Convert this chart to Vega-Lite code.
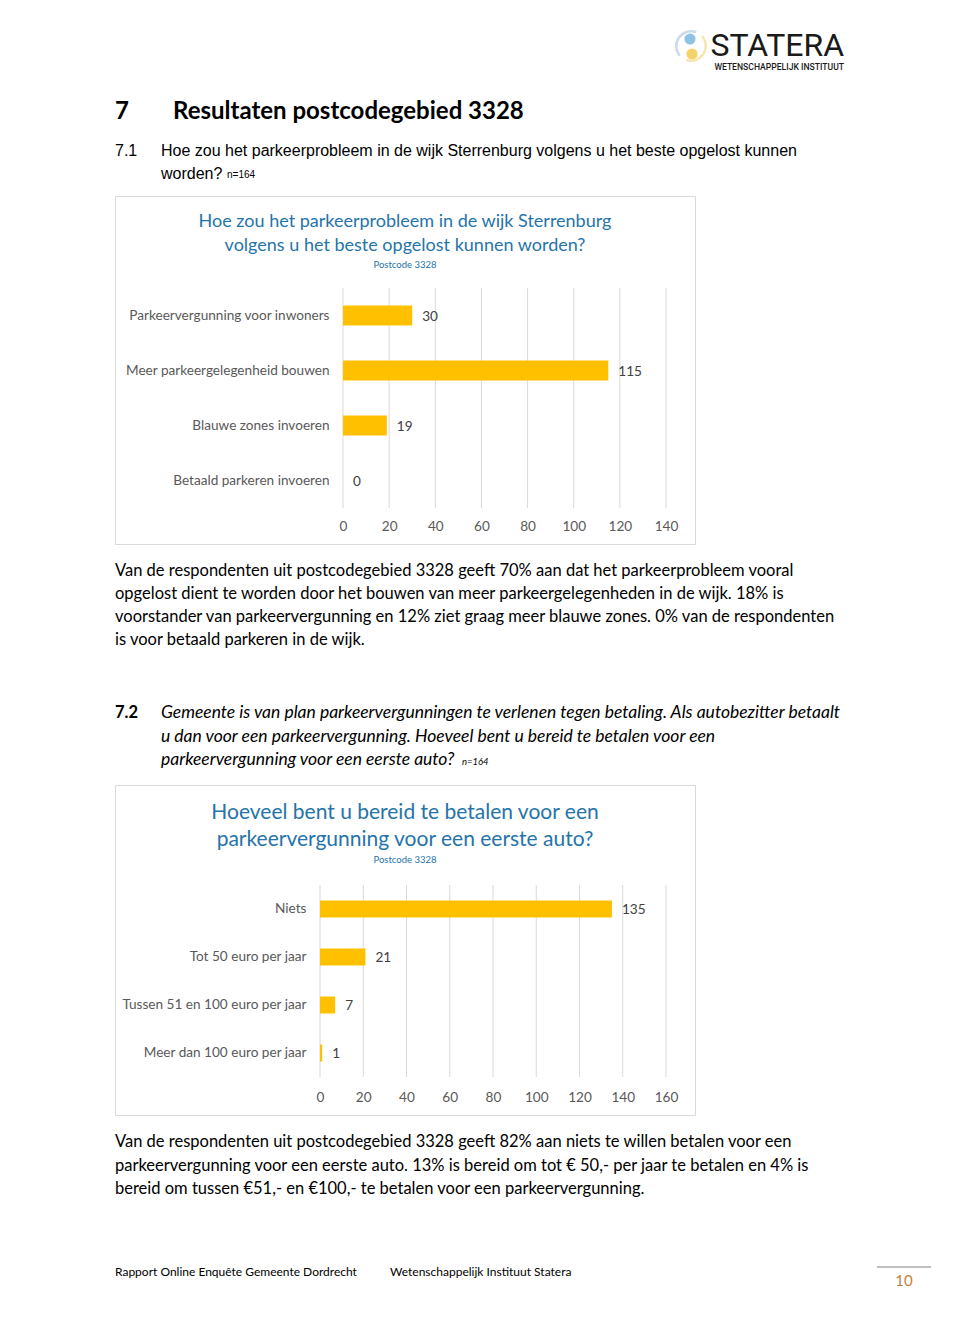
{
  "$schema": "https://vega.github.io/schema/vega-lite/v6.json",
  "background": "#ffffff",
  "padding": {"left": 114, "top": 0, "right": 0, "bottom": 0},
  "bounds": "flush",
  "spacing": 0,
  "config": {"view": {"stroke": null}, "font": "Lato"},
  "vconcat": [
    {
      "width": 730,
      "height": 196,
      "layer": [
        {
          "data": {"values": [{"kleur": "geel", "aandeel": 1}, {"kleur": "blauw", "aandeel": 1}]},
          "mark": {"type": "arc", "radius": 16, "radius2": 13.5, "padAngle": 0.35},
          "encoding": {
            "x": {"field": "kleur", "type": "nominal", "axis": null, "scale": {"type": "point", "domain": ["geel", "blauw"], "range": [576, 576], "padding": 0}},
            "y": {"field": "kleur", "type": "nominal", "axis": null, "scale": {"type": "point", "domain": ["geel", "blauw"], "range": [46, 46], "padding": 0}},
            "theta": {"field": "aandeel", "type": "quantitative", "stack": true, "scale": {"range": [0.6, 6.883]}},
            "order": {"field": "kleur", "sort": "descending"},
            "color": {"field": "kleur", "type": "nominal", "legend": null, "scale": {"domain": ["blauw", "geel"], "range": ["#cadcea", "#f8e6b0"]}}
          }
        },
        {
          "data": {"values": [{"kleur": "blauw"}, {"kleur": "geel"}]},
          "mark": {"type": "circle", "opacity": 1, "size": 125},
          "encoding": {
            "x": {"field": "kleur", "type": "nominal", "axis": null, "scale": {"type": "point", "domain": ["blauw", "geel"], "range": [575, 577], "padding": 0}},
            "y": {"field": "kleur", "type": "nominal", "axis": null, "scale": {"type": "point", "domain": ["blauw", "geel"], "range": [39, 54], "padding": 0}},
            "color": {"field": "kleur", "type": "nominal", "legend": null, "scale": {"domain": ["blauw", "geel"], "range": ["#8ec3e6", "#f6d26a"]}}
          }
        },
        {
          "data": {"values": [{"deel": "naam", "tekst": "STATERA"}]},
          "mark": {"type": "text", "align": "right", "baseline": "alphabetic", "font": "Roboto", "fontSize": 32, "color": "#1a1a1a"},
          "encoding": {
            "x": {"field": "deel", "type": "nominal", "axis": null, "scale": {"type": "point", "domain": ["naam"], "range": [729, 729], "padding": 0}},
            "y": {"field": "deel", "type": "nominal", "axis": null, "scale": {"type": "point", "domain": ["naam"], "range": [56, 56], "padding": 0}},
            "text": {"field": "tekst"}
          }
        },
        {
          "data": {"values": [{"deel": "ondertitel", "tekst": "WETENSCHAPPELIJK INSTITUUT"}]},
          "mark": {"type": "text", "align": "right", "baseline": "alphabetic", "font": "Roboto", "fontSize": 8.6, "fontWeight": 500, "color": "#1a1a1a"},
          "encoding": {
            "x": {"field": "deel", "type": "nominal", "axis": null, "scale": {"type": "point", "domain": ["ondertitel"], "range": [729, 729], "padding": 0}},
            "y": {"field": "deel", "type": "nominal", "axis": null, "scale": {"type": "point", "domain": ["ondertitel"], "range": [70, 70], "padding": 0}},
            "text": {"field": "tekst"}
          }
        },
        {
          "data": {"values": [
            {"regel": 1, "deel": "nummer", "tekst": "7"},
            {"regel": 1, "deel": "tekst", "tekst": "Resultaten postcodegebied 3328"}
          ]},
          "mark": {"type": "text", "align": "left", "baseline": "alphabetic", "font": "Lato", "fontSize": 24, "fontWeight": "bold", "color": "#000000"},
          "encoding": {
            "x": {"field": "deel", "type": "nominal", "axis": null, "scale": {"type": "point", "domain": ["nummer", "tekst"], "range": [0, 58], "padding": 0}},
            "y": {"field": "regel", "type": "ordinal", "axis": null, "scale": {"type": "point", "domain": [1], "range": [119, 119], "padding": 0}},
            "text": {"field": "tekst"}
          }
        },
        {
          "layer": [
            {
              "data": {"values": [
                {"regel": 1, "deel": "nummer", "tekst": "7.1"},
                {"regel": 1, "deel": "tekst", "tekst": "Hoe zou het parkeerprobleem in de wijk Sterrenburg volgens u het beste opgelost kunnen"},
                {"regel": 2, "deel": "tekst", "tekst": "worden?"}
              ]},
              "mark": {"type": "text", "align": "left", "baseline": "middle", "font": "Liberation Sans", "fontSize": 16, "color": "#000000"},
              "encoding": {
                "x": {"field": "deel", "type": "nominal", "axis": null, "scale": {"type": "point", "domain": ["nummer", "tekst"], "range": [0, 46], "padding": 0}},
                "y": {"field": "regel", "type": "ordinal", "axis": null, "scale": {"type": "point", "domain": [1, 2], "range": [151, 174], "padding": 0}},
                "text": {"field": "tekst"}
              }
            },
            {
              "data": {"values": [{"regel": 2, "deel": "tekst", "tekst": "n=164"}]},
              "mark": {"type": "text", "align": "left", "baseline": "middle", "font": "Liberation Sans", "fontSize": 10, "dx": 66, "dy": 1, "color": "#000000"},
              "encoding": {
                "x": {"field": "deel", "type": "nominal", "axis": null, "scale": {"type": "point", "domain": ["nummer", "tekst"], "range": [0, 46], "padding": 0}},
                "y": {"field": "regel", "type": "ordinal", "axis": null, "scale": {"type": "point", "domain": [1, 2], "range": [151, 174], "padding": 0}},
                "text": {"field": "tekst"}
              }
            }
          ]
        }
      ],
      "resolve": {"scale": {"x": "independent", "y": "independent", "color": "independent", "theta": "independent"}}
    },
    {
      "width": 580,
      "height": 348,
      "view": {"stroke": "#d9d9d9", "strokeWidth": 1},
      "title": {
        "text": ["Hoe zou het parkeerprobleem in de wijk Sterrenburg", "volgens u het beste opgelost kunnen worden?"],
        "subtitle": "Postcode 3328",
        "orient": "top",
        "anchor": "middle",
        "frame": "group",
        "offset": -73,
        "font": "Lato",
        "fontSize": 18,
        "fontWeight": "normal",
        "color": "#2574a9",
        "lineHeight": 24,
        "subtitleFont": "Lato",
        "subtitleFontSize": 9.5,
        "subtitleColor": "#2574a9",
        "subtitlePadding": 5
      },
      "layer": [
        {
          "data": {"values": [{"waarde": 0}, {"waarde": 20}, {"waarde": 40}, {"waarde": 60}, {"waarde": 80}, {"waarde": 100}, {"waarde": 120}, {"waarde": 140}]},
          "mark": {"type": "rule", "color": "#d9d9d9", "strokeWidth": 1},
          "encoding": {
            "x": {"field": "waarde", "type": "quantitative", "axis": null, "scale": {"domain": [0, 140], "range": [228, 551], "nice": false}},
            "y": {"datum": 0, "type": "quantitative", "axis": null, "scale": {"domain": [0, 1], "range": [92, 312]}},
            "y2": {"datum": 1}
          }
        },
        {
          "data": {"values": [
            {"antwoord": "Parkeervergunning voor inwoners", "aantal": 30},
            {"antwoord": "Meer parkeergelegenheid bouwen", "aantal": 115},
            {"antwoord": "Blauwe zones invoeren", "aantal": 19},
            {"antwoord": "Betaald parkeren invoeren", "aantal": 0}
          ]},
          "encoding": {
            "y": {"field": "antwoord", "type": "nominal", "sort": null, "scale": {"type": "band", "range": [92, 312], "paddingInner": 0.636, "paddingOuter": 0.318},
              "axis": {"orient": "left", "offset": -228, "domain": false, "ticks": false, "grid": false, "labelPadding": 14, "labelFont": "Lato", "labelFontSize": 13.6, "labelColor": "#595959", "title": null, "labelLimit": 400}},
            "x": {"field": "aantal", "type": "quantitative", "scale": {"domain": [0, 140], "range": [228, 551], "nice": false},
              "axis": {"orient": "bottom", "offset": -36, "domain": false, "ticks": false, "tickSize": 0, "grid": false, "labelPadding": 11, "labelFont": "Lato", "labelFontSize": 13.6, "labelColor": "#595959", "title": null, "values": [0, 20, 40, 60, 80, 100, 120, 140], "labelFlush": false, "labelOverlap": false}}
          },
          "layer": [
            {"mark": {"type": "bar", "color": "#FFC000"}},
            {
              "mark": {"type": "text", "align": "left", "baseline": "middle", "dx": 10, "dy": 1, "font": "Lato", "fontSize": 13.6, "color": "#404040"},
              "encoding": {"text": {"field": "aantal", "type": "quantitative"}}
            }
          ]
        }
      ],
      "resolve": {"scale": {"x": "independent", "y": "independent"}}
    },
    {
      "width": 730,
      "height": 241,
      "layer": [
        {
          "data": {"values": [
            {"regel": 1, "deel": "tekst", "tekst": "Van de respondenten uit postcodegebied 3328 geeft 70% aan dat het parkeerprobleem vooral"},
            {"regel": 2, "deel": "tekst", "tekst": "opgelost dient te worden door het bouwen van meer parkeergelegenheden in de wijk. 18% is"},
            {"regel": 3, "deel": "tekst", "tekst": "voorstander van parkeervergunning en 12% ziet graag meer blauwe zones. 0% van de respondenten"},
            {"regel": 4, "deel": "tekst", "tekst": "is voor betaald parkeren in de wijk."}
          ]},
          "mark": {"type": "text", "align": "left", "baseline": "middle", "font": "Lato", "fontSize": 16.5, "color": "#000000"},
          "encoding": {
            "x": {"field": "deel", "type": "nominal", "axis": null, "scale": {"type": "point", "domain": ["tekst"], "range": [0, 0], "padding": 0}},
            "y": {"field": "regel", "type": "ordinal", "axis": null, "scale": {"type": "point", "domain": [1, 2, 3, 4], "range": [27, 96], "padding": 0}},
            "text": {"field": "tekst"}
          }
        },
        {
          "layer": [
            {
              "data": {"values": [{"regel": 1, "deel": "nummer", "tekst": "7.2"}]},
              "mark": {"type": "text", "align": "left", "baseline": "middle", "font": "Lato", "fontSize": 16.5, "fontWeight": "bold", "color": "#000000"},
              "encoding": {
                "x": {"field": "deel", "type": "nominal", "axis": null, "scale": {"type": "point", "domain": ["nummer", "tekst"], "range": [0, 46], "padding": 0}},
                "y": {"field": "regel", "type": "ordinal", "axis": null, "scale": {"type": "point", "domain": [1, 2, 3], "range": [169, 216], "padding": 0}},
                "text": {"field": "tekst"}
              }
            },
            {
              "data": {"values": [
                {"regel": 1, "deel": "tekst", "tekst": "Gemeente is van plan parkeervergunningen te verlenen tegen betaling. Als autobezitter betaalt"},
                {"regel": 2, "deel": "tekst", "tekst": "u dan voor een parkeervergunning. Hoeveel bent u bereid te betalen voor een"},
                {"regel": 3, "deel": "tekst", "tekst": "parkeervergunning voor een eerste auto?"}
              ]},
              "mark": {"type": "text", "align": "left", "baseline": "middle", "font": "Lato", "fontSize": 17.5, "fontStyle": "italic", "color": "#000000"},
              "encoding": {
                "x": {"field": "deel", "type": "nominal", "axis": null, "scale": {"type": "point", "domain": ["nummer", "tekst"], "range": [0, 46], "padding": 0}},
                "y": {"field": "regel", "type": "ordinal", "axis": null, "scale": {"type": "point", "domain": [1, 2, 3], "range": [169, 216], "padding": 0}},
                "text": {"field": "tekst"}
              }
            },
            {
              "data": {"values": [{"regel": 3, "deel": "tekst", "tekst": "n=164"}]},
              "mark": {"type": "text", "align": "left", "baseline": "middle", "font": "Lato", "fontSize": 9.5, "fontStyle": "italic", "dx": 301, "dy": 2, "color": "#000000"},
              "encoding": {
                "x": {"field": "deel", "type": "nominal", "axis": null, "scale": {"type": "point", "domain": ["nummer", "tekst"], "range": [0, 46], "padding": 0}},
                "y": {"field": "regel", "type": "ordinal", "axis": null, "scale": {"type": "point", "domain": [1, 2, 3], "range": [169, 216], "padding": 0}},
                "text": {"field": "tekst"}
              }
            }
          ]
        }
      ],
      "resolve": {"scale": {"x": "independent", "y": "independent"}}
    },
    {
      "width": 580,
      "height": 330,
      "view": {"stroke": "#d9d9d9", "strokeWidth": 1},
      "title": {
        "text": ["Hoeveel bent u bereid te betalen voor een", "parkeervergunning voor een eerste auto?"],
        "subtitle": "Postcode 3328",
        "orient": "top",
        "anchor": "middle",
        "frame": "group",
        "offset": -79,
        "font": "Lato",
        "fontSize": 21,
        "fontWeight": "normal",
        "color": "#2574a9",
        "lineHeight": 27,
        "subtitleFont": "Lato",
        "subtitleFontSize": 9.5,
        "subtitleColor": "#2574a9",
        "subtitlePadding": 5
      },
      "layer": [
        {
          "data": {"values": [{"waarde": 0}, {"waarde": 20}, {"waarde": 40}, {"waarde": 60}, {"waarde": 80}, {"waarde": 100}, {"waarde": 120}, {"waarde": 140}, {"waarde": 160}]},
          "mark": {"type": "rule", "color": "#d9d9d9", "strokeWidth": 1},
          "encoding": {
            "x": {"field": "waarde", "type": "quantitative", "axis": null, "scale": {"domain": [0, 160], "range": [205, 551], "nice": false}},
            "y": {"datum": 0, "type": "quantitative", "axis": null, "scale": {"domain": [0, 1], "range": [100, 292]}},
            "y2": {"datum": 1}
          }
        },
        {
          "data": {"values": [
            {"antwoord": "Niets", "aantal": 135},
            {"antwoord": "Tot 50 euro per jaar", "aantal": 21},
            {"antwoord": "Tussen 51 en 100 euro per jaar", "aantal": 7},
            {"antwoord": "Meer dan 100 euro per jaar", "aantal": 1}
          ]},
          "encoding": {
            "y": {"field": "antwoord", "type": "nominal", "sort": null, "scale": {"type": "band", "range": [100, 292], "paddingInner": 0.646, "paddingOuter": 0.323},
              "axis": {"orient": "left", "offset": -205, "domain": false, "ticks": false, "grid": false, "labelPadding": 14, "labelFont": "Lato", "labelFontSize": 13.6, "labelColor": "#595959", "title": null, "labelLimit": 400}},
            "x": {"field": "aantal", "type": "quantitative", "scale": {"domain": [0, 160], "range": [205, 551], "nice": false},
              "axis": {"orient": "bottom", "offset": -38, "domain": false, "ticks": false, "tickSize": 0, "grid": false, "labelPadding": 13, "labelFont": "Lato", "labelFontSize": 13.6, "labelColor": "#595959", "title": null, "values": [0, 20, 40, 60, 80, 100, 120, 140, 160], "labelFlush": false, "labelOverlap": false}}
          },
          "layer": [
            {"mark": {"type": "bar", "color": "#FFC000"}},
            {
              "mark": {"type": "text", "align": "left", "baseline": "middle", "dx": 10, "dy": 1, "font": "Lato", "fontSize": 13.6, "color": "#404040"},
              "encoding": {"text": {"field": "aantal", "type": "quantitative"}}
            }
          ]
        }
      ],
      "resolve": {"scale": {"x": "independent", "y": "independent"}}
    },
    {
      "width": 846,
      "height": 224,
      "layer": [
        {
          "data": {"values": [
            {"regel": 1, "deel": "tekst", "tekst": "Van de respondenten uit postcodegebied 3328 geeft 82% aan niets te willen betalen voor een"},
            {"regel": 2, "deel": "tekst", "tekst": "parkeervergunning voor een eerste auto. 13% is bereid om tot € 50,- per jaar te betalen en 4% is"},
            {"regel": 3, "deel": "tekst", "tekst": "bereid om tussen €51,- en €100,- te betalen voor een parkeervergunning."}
          ]},
          "mark": {"type": "text", "align": "left", "baseline": "middle", "font": "Lato", "fontSize": 16.5, "color": "#000000"},
          "encoding": {
            "x": {"field": "deel", "type": "nominal", "axis": null, "scale": {"type": "point", "domain": ["tekst"], "range": [0, 0], "padding": 0}},
            "y": {"field": "regel", "type": "ordinal", "axis": null, "scale": {"type": "point", "domain": [1, 2, 3], "range": [27, 74], "padding": 0}},
            "text": {"field": "tekst"}
          }
        },
        {
          "data": {"values": [
            {"deel": "rapport", "tekst": "Rapport Online Enquête Gemeente Dordrecht"},
            {"deel": "instituut", "tekst": "Wetenschappelijk Instituut Statera"}
          ]},
          "mark": {"type": "text", "align": "left", "baseline": "middle", "font": "Lato", "fontSize": 12, "color": "#000000"},
          "encoding": {
            "x": {"field": "deel", "type": "nominal", "axis": null, "scale": {"type": "point", "domain": ["rapport", "instituut"], "range": [0, 275], "padding": 0}},
            "y": {"field": "deel", "type": "nominal", "axis": null, "scale": {"type": "point", "domain": ["rapport", "instituut"], "range": [157, 157], "padding": 0}},
            "text": {"field": "tekst"}
          }
        },
        {
          "data": {"values": [{"pagina": "10"}]},
          "layer": [
            {
              "mark": {"type": "rect", "color": "#bfbfbf"},
              "encoding": {
                "x": {"field": "pagina", "type": "nominal", "axis": null, "scale": {"type": "band", "domain": ["10"], "range": [762, 816], "paddingInner": 0, "paddingOuter": 0}},
                "y": {"field": "pagina", "type": "nominal", "axis": null, "scale": {"type": "band", "domain": ["10"], "range": [151, 153], "paddingInner": 0, "paddingOuter": 0}}
              }
            },
            {
              "mark": {"type": "text", "align": "center", "baseline": "middle", "font": "Lato", "fontSize": 15, "color": "#c0843f"},
              "encoding": {
                "x": {"field": "pagina", "type": "nominal", "axis": null, "scale": {"type": "band", "domain": ["10"], "range": [762, 816], "paddingInner": 0, "paddingOuter": 0}},
                "y": {"field": "pagina", "type": "nominal", "axis": null, "scale": {"type": "point", "domain": ["10"], "range": [166, 166], "padding": 0}},
                "text": {"field": "pagina"}
              }
            }
          ],
          "resolve": {"scale": {"y": "independent"}}
        }
      ],
      "resolve": {"scale": {"x": "independent", "y": "independent"}}
    }
  ]
}
